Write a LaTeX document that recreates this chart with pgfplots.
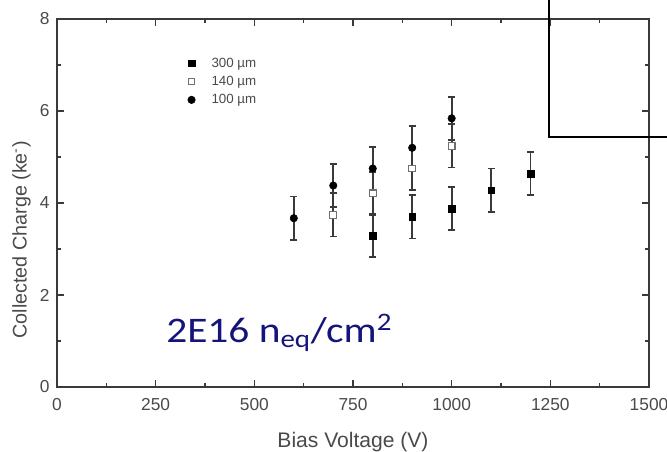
\documentclass[border=0pt]{standalone}
\usepackage{fontspec}
\setmainfont{Liberation Sans}
\newfontfamily\calfont{Carlito}
\usepackage{graphicx}
\usepackage{pgfplots}
\pgfplotsset{compat=1.18}
\definecolor{axgray}{HTML}{3A3A3A}
\definecolor{txtgray}{HTML}{4A4A4A}
\definecolor{navyblue}{HTML}{14147A}
\definecolor{opengray}{HTML}{707070}

\pgfplotstableread{
x y ey
800 3.29 0.47
900 3.70 0.47
1000 3.88 0.47
1100 4.28 0.47
1200 4.64 0.47
}\thickA
\pgfplotstableread{
x y ey
700 3.74 0.47
800 4.21 0.47
900 4.75 0.47
1000 5.24 0.47
}\thickB
\pgfplotstableread{
x y ey
600 3.67 0.47
700 4.38 0.47
800 4.75 0.47
900 5.20 0.47
1000 5.84 0.47
}\thickC

\begin{document}
\begin{tikzpicture}[x=1pt,y=1pt]
\begin{axis}[
  at={(0,0)}, anchor=south west,
  width=444pt, height=276pt, scale only axis,
  xmin=0, xmax=1500, ymin=0, ymax=8,
  xtick={0,250,...,1500}, minor x tick num=1,
  ytick={0,2,...,8}, minor y tick num=1,
  tick align=inside, xtick pos=both, ytick pos=both,
  major tick length=5pt, minor tick length=3pt,
  axis line style={axgray, line width=1.4pt},
  every tick/.style={axgray, line width=1.1pt},
  tick label style={font=\fontsize{13}{15}\selectfont, text=txtgray},
  xticklabel style={/pgf/number format/1000 sep={}, yshift=-5pt},
  yticklabel style={xshift=-2pt},
  label style={font=\fontsize{15.8}{18}\selectfont, text=txtgray},
  xlabel={Bias Voltage (V)},
  xlabel style={yshift=-9pt},
  ylabel={Collected Charge (ke\textsuperscript{-})},
  ylabel style={at={(ticklabel cs:0.4)}, font=\fontsize{14.8}{18}\selectfont},
  /pgf/number format/assume math mode=true,
  scaled ticks=false,
  legend style={draw=none, fill=none, at={(0.21,0.91)}, anchor=north west,
    font=\fontsize{10}{12}\selectfont, text=txtgray, row sep=1.2pt},
  legend cell align=left,
  legend image code/.code={\path (0cm,0cm) (0.6cm,0cm); \draw[#1] plot coordinates {(0.15cm,0cm)};},
  error bars/error bar style={axgray, line width=1.3pt},
  error bars/error mark options={rotate=90, mark size=2.7pt, line width=1.3pt, axgray},
]
\addplot[only marks, mark=square*, mark size=2.5pt, black,
  error bars/.cd, y dir=both, y explicit]
  table[x=x, y=y, y error=ey] {\thickA};
\addlegendentry{300 µm}
\addplot[only marks, mark=square*, mark size=2.5pt, mark options={fill=white, draw=opengray, line width=0.8pt},
  error bars/.cd, y dir=both, y explicit]
  table[x=x, y=y, y error=ey] {\thickB};
\addlegendentry{140 µm}
\addplot[only marks, mark=*, mark size=2.8pt, black,
  error bars/.cd, y dir=both, y explicit]
  table[x=x, y=y, y error=ey] {\thickC};
\addlegendentry{100 µm}
\end{axis}
\draw[line width=1.1pt, black] (369,300) -- (369,187.5) -- (470,187.5);
\node[anchor=base west, inner sep=0pt, font=\calfont\fontsize{27}{32}\selectfont, text=navyblue] at (81.75,33) {\scalebox{1.15}[1]{2E16 n\textsubscript{eq}/cm\textsuperscript{2}}};
\pgfresetboundingbox
\path[use as bounding box] (-42.75,-48.75) rectangle (457.5,290.25);
\end{tikzpicture}
\end{document}
